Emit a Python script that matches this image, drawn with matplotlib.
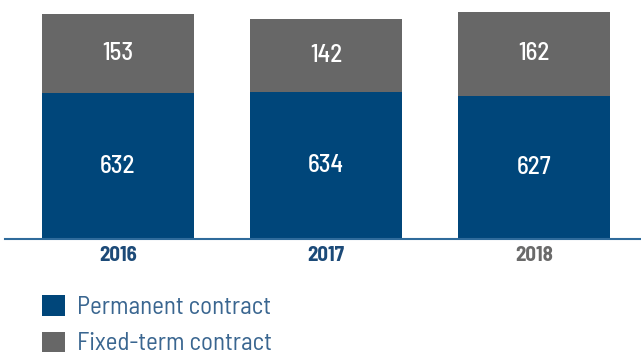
import matplotlib
matplotlib.use("Agg")
import matplotlib.pyplot as plt
from matplotlib.patches import Patch

plt.rcParams['font.family'] = ['Barlow Semi Condensed', 'DejaVu Sans']

years = ["2016", "2017", "2018"]
permanent = [632, 634, 627]
fixed_term = [153, 142, 162]
series_names = ["Permanent contract", "Fixed-term contract"]

BLUE = "#00467a"
GREY = "#676767"
AXIS_BLUE = "#2f6b9b"
YEAR_COLORS = ["#1c4a78", "#1c4a78", "#6a6a6a"]
LEGEND_TEXT = "#3a6690"

W, H = 641, 354
fig = plt.figure(figsize=(W / 100, H / 100), dpi=100)
base_px = 239
ax = fig.add_axes([5 / W, (H - base_px) / H, (W - 5) / W, base_px / H])

x = range(len(years))
b1 = ax.bar(x, permanent, width=0.731, color=BLUE, bottom=0)
b2 = ax.bar(x, fixed_term, width=0.731, color=GREY, bottom=permanent)

ax.bar_label(b1, labels=[str(v) for v in permanent], label_type='center',
             color='white', fontsize=18, fontweight=500)
ax.bar_label(b2, labels=[str(v) for v in fixed_term], label_type='center',
             color='white', fontsize=18, fontweight=500)

ax.set_ylim(350, 812)
ax.set_xlim(-0.543, 2.514)

for s in ["top", "right", "left"]:
    ax.spines[s].set_visible(False)
ax.spines["bottom"].set_color(AXIS_BLUE)
ax.spines["bottom"].set_linewidth(1.5)
ax.set_yticks([])
ax.set_xticks(list(x))
ax.set_xticklabels(years, fontsize=15, fontweight='bold')
for lbl, c in zip(ax.get_xticklabels(), YEAR_COLORS):
    lbl.set_color(c)
ax.tick_params(axis='x', length=0, pad=5)

handles = [Patch(facecolor=BLUE), Patch(facecolor=GREY)]
leg = fig.legend(handles, series_names, loc='upper left',
                 bbox_to_anchor=(42 / W, 1 - 295 / H), frameon=False,
                 prop={'size': 18, 'weight': 'normal'},
                 handlelength=0.9, handleheight=0.9,
                 handletextpad=0.5, labelspacing=0.5, borderpad=0,
                 borderaxespad=0)
for t in leg.get_texts():
    t.set_color(LEGEND_TEXT)

fig.savefig("out.png", dpi=100)
